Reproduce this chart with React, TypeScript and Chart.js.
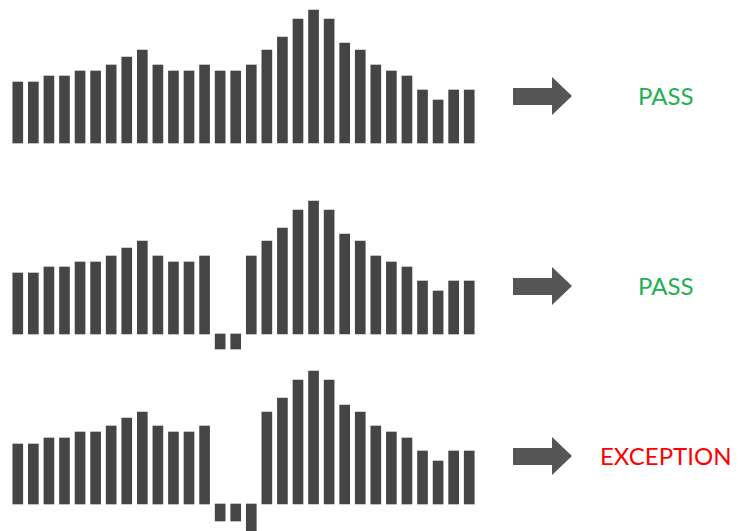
import React, { useEffect, useRef } from "react";
import { Chart, registerables } from "chart.js";

Chart.register(...registerables);

const categories = Array.from({ length: 30 }, (_, i) => String(i + 1));

const seriesPass = [61, 61, 67, 67, 72, 72, 78, 86, 93, 78, 72, 72, 78, 72, 72, 78, 93, 106, 124, 133, 124, 100, 93, 78, 72, 67, 53, 43, 53, 53];
const seriesPassGap = [61, 61, 67, 67, 72, 72, 78, 86, 93, 78, 72, 72, 78, -15, -15, 78, 93, 106, 124, 133, 124, 100, 93, 78, 72, 67, 53, 43, 53, 53];
const seriesException = [60, 60, 66, 66, 72, 72, 78, 86, 92, 78, 72, 72, 78, -17, -17, -30, 92, 106, 124, 133, 124, 99, 92, 78, 72, 66, 53, 43, 53, 53];

const resultLabels = ["PASS", "PASS", "EXCEPTION"];

const BAR_COLOR = "#454545";

type MiniProps = {
  values: number[];
  top: number;
  height: number;
  yMax: number;
};

function MiniBars({ values, top, height, yMax }: MiniProps) {
  const ref = useRef<HTMLCanvasElement | null>(null);
  useEffect(() => {
    if (!ref.current) return;
    const chart = new Chart(ref.current, {
      type: "bar",
      data: {
        labels: categories,
        datasets: [
          {
            data: values,
            backgroundColor: BAR_COLOR,
            borderWidth: 0,
            barThickness: 10,
          },
        ],
      },
      options: {
        responsive: false,
        animation: false,
        events: [],
        layout: { padding: 0 },
        plugins: { legend: { display: false }, tooltip: { enabled: false } },
        scales: {
          x: { display: false, offset: true, grid: { display: false } },
          y: { display: false, min: yMax - height, max: yMax, grid: { display: false } },
        },
      },
    });
    return () => chart.destroy();
  }, [values, height, yMax]);
  return (
    <canvas
      ref={ref}
      width={467}
      height={height}
      style={{ position: "absolute", left: 10, top, width: 467, height }}
    />
  );
}

function Arrow({ top }: { top: number }) {
  return (
    <svg
      width={60}
      height={39}
      style={{ position: "absolute", left: 513, top }}
    >
      <polygon points="0,11 39,11 39,0 59,19 39,38 39,28 0,28" fill="#555555" />
    </svg>
  );
}

function Label({ text, color, left, top }: { text: string; color: string; left: number; top: number }) {
  return (
    <div
      style={{
        position: "absolute",
        left,
        top,
        fontFamily: "Lato, 'Open Sans', sans-serif",
        fontSize: 24,
        lineHeight: "24px",
        color,
        whiteSpace: "nowrap",
      }}
    >
      {text}
    </div>
  );
}

export default function App() {
  return (
    <div
      style={{
        position: "fixed",
        left: 0,
        top: 0,
        width: 750,
        height: 531,
        background: "#ffffff",
        overflow: "hidden",
      }}
    >
      <MiniBars values={seriesPass} top={0} height={150} yMax={143} />
      <MiniBars values={seriesPassGap} top={180} height={175} yMax={154} />
      <MiniBars values={seriesException} top={355} height={176} yMax={149} />
      <Arrow top={77} />
      <Arrow top={267} />
      <Arrow top={437} />
      <Label text={resultLabels[0]} color="#22b04f" left={638} top={84} />
      <Label text={resultLabels[1]} color="#22b04f" left={638} top={274} />
      <Label text={resultLabels[2]} color="#ff0000" left={600} top={444} />
    </div>
  );
}
